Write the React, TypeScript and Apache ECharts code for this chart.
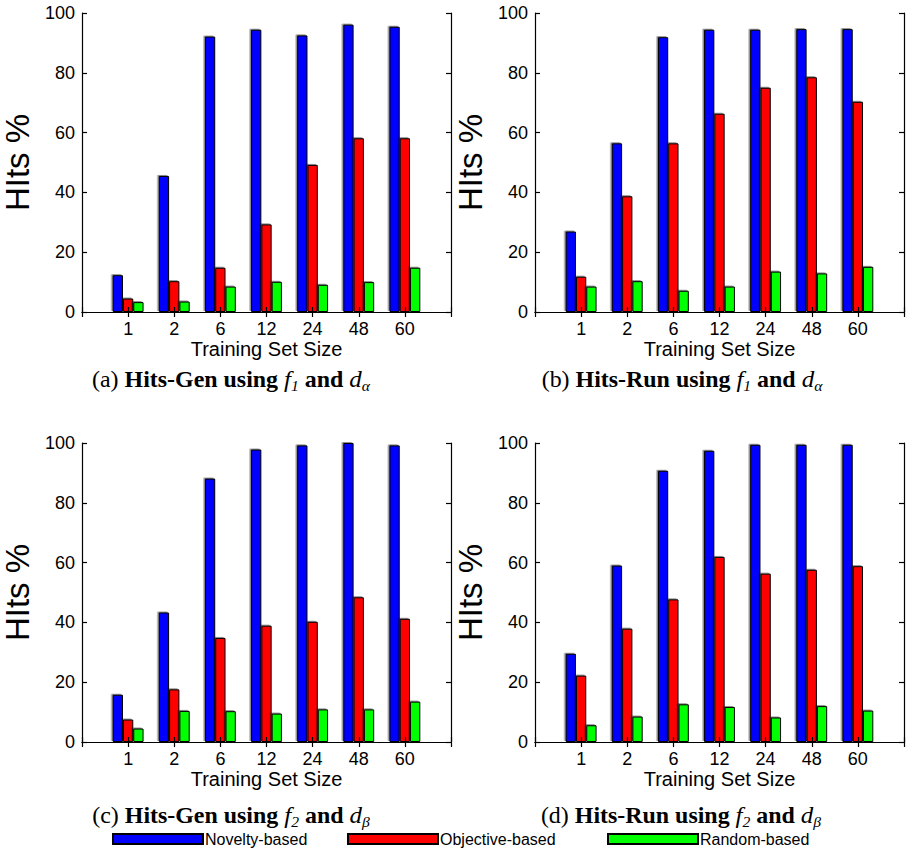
import React, { useEffect, useRef } from "react";
import * as echarts from "echarts";

const categories = ["1", "2", "6", "12", "24", "48", "60"];
const seriesNames = ["Novelty-based", "Objective-based", "Random-based"];
const seriesColors = ["#0000FF", "#FF0000", "#00FF00"];
const yTickValues = [0, 20, 40, 60, 80, 100];

// (a) Hits-Gen using f1 and d_alpha
const aNovelty = [12.3, 45.5, 92.1, 94.4, 92.5, 96.1, 95.4];
const aObjective = [4.5, 10.3, 14.8, 29.3, 49.2, 58.1, 58.1];
const aRandom = [3.3, 3.5, 8.5, 10.1, 9.1, 10.0, 14.8];
// (b) Hits-Run using f1 and d_alpha
const bNovelty = [26.9, 56.4, 91.9, 94.4, 94.4, 94.6, 94.6];
const bObjective = [11.8, 38.7, 56.4, 66.3, 75.0, 78.5, 70.3];
const bRandom = [8.5, 10.3, 7.1, 8.5, 13.5, 12.9, 15.1];
// (c) Hits-Gen using f2 and d_beta
const cNovelty = [15.8, 43.3, 88.1, 97.8, 99.2, 100, 99.2];
const cObjective = [7.5, 17.6, 34.8, 38.9, 40.2, 48.4, 41.2];
const cRandom = [4.5, 10.4, 10.3, 9.5, 10.9, 10.9, 13.5];
// (d) Hits-Run using f2 and d_beta
const dNovelty = [29.5, 59.0, 90.7, 97.4, 99.4, 99.4, 99.4];
const dObjective = [22.2, 37.9, 47.7, 61.9, 56.3, 57.6, 58.8];
const dRandom = [5.6, 8.5, 12.6, 11.7, 8.2, 12.0, 10.5];

const captionLetters = ["a", "b", "c", "d"];
const captionTitles = ["Hits-Gen using ", "Hits-Run using ", "Hits-Gen using ", "Hits-Run using "];
const captionSubF = ["1", "1", "2", "2"];
const captionSubD = ["α", "α", "β", "β"];

const panels = [
  [aNovelty, aObjective, aRandom],
  [bNovelty, bObjective, bRandom],
  [cNovelty, cObjective, cRandom],
  [dNovelty, dObjective, dRandom],
];

const SANS = "'Liberation Sans', Arial, Helvetica, sans-serif";
const SERIF = "'Liberation Serif', 'Times New Roman', serif";

const gridBoxes = [
  { left: 81, top: 13 },
  { left: 535, top: 13 },
  { left: 81, top: 443 },
  { left: 535, top: 443 },
];
const captionPos = [
  { x: 231, y: 379 },
  { x: 682, y: 379 },
  { x: 231, y: 815 },
  { x: 681, y: 815 },
];
const legendLeft = [112, 347, 607];

export default function App() {
  const ref = useRef<HTMLDivElement>(null);
  useEffect(() => {
    if (!ref.current) return;
    const chart = echarts.init(ref.current, undefined, { renderer: "svg" });
    const padded = ["", ...categories, ""];

    const grid: any[] = [];
    const xAxis: any[] = [];
    const yAxis: any[] = [];
    const series: any[] = [];
    const graphic: any[] = [];

    panels.forEach((panel, i) => {
      grid.push({ left: gridBoxes[i].left, top: gridBoxes[i].top, width: 370, height: 299 });
      const lineStyle = { color: "#000", width: 1.2 };
      xAxis.push({
        type: "category",
        gridIndex: i,
        data: padded,
        boundaryGap: false,
        position: "bottom",
        axisLine: { show: true, lineStyle },
        axisTick: { show: true, inside: true, length: 5, lineStyle, interval: 0 },
        axisLabel: { show: true, interval: 0, color: "#000", fontSize: 18, fontFamily: SANS, margin: 8 },
        splitLine: { show: false },
        name: "Training Set Size",
        nameLocation: "middle",
        nameGap: 24,
        nameTextStyle: { color: "#000", fontSize: 20, fontFamily: SANS, verticalAlign: "top" },
        z: 10,
      });
      xAxis.push({
        type: "category",
        gridIndex: i,
        data: padded,
        boundaryGap: false,
        position: "top",
        axisLine: { show: true, lineStyle },
        axisTick: { show: true, inside: true, length: 5, lineStyle, interval: 0 },
        axisLabel: { show: false },
        splitLine: { show: false },
        z: 10,
      });
      yAxis.push({
        type: "value",
        gridIndex: i,
        min: 0,
        max: 100,
        interval: 20,
        position: "left",
        axisLine: { show: true, lineStyle },
        axisTick: { show: true, inside: true, length: 5, lineStyle },
        axisLabel: {
          show: true,
          color: "#000",
          fontSize: 18,
          fontFamily: SANS,
          margin: 7,
          formatter: (v: number) => (yTickValues.includes(v) ? String(v) : ""),
        },
        splitLine: { show: false },
        name: "HIts %",
        nameLocation: "middle",
        nameGap: 48,
        nameTextStyle: { color: "#000", fontSize: 33, fontFamily: SANS },
        z: 10,
      });
      yAxis.push({
        type: "value",
        gridIndex: i,
        min: 0,
        max: 100,
        interval: 20,
        position: "right",
        axisLine: { show: true, lineStyle },
        axisTick: { show: true, inside: true, length: 5, lineStyle },
        axisLabel: { show: false },
        splitLine: { show: false },
        z: 10,
      });
      panel.forEach((vals, s) => {
        series.push({
          type: "bar",
          name: seriesNames[s],
          xAxisIndex: i * 2,
          yAxisIndex: i * 2,
          data: [null, ...vals, null],
          barWidth: "22.3%",
          barGap: "0%",
          itemStyle: {
            color: seriesColors[s],
            borderColor: "#000",
            borderWidth: 1,
            shadowColor: "rgba(0,0,0,0.45)",
            shadowOffsetX: -1.5,
            shadowOffsetY: -1,
            shadowBlur: 0,
          },
          emphasis: { disabled: true },
        });
      });
      graphic.push({
        type: "text",
        x: captionPos[i].x,
        y: captionPos[i].y,
        scaleX: 1.04,
        style: {
          text:
            "{n|(" + captionLetters[i] + ") }{b|" + captionTitles[i] + "}{i|f}{s|" + captionSubF[i] +
            "}{b| and }{i|d}{s|" + captionSubD[i] + "}",
          align: "center",
          verticalAlign: "middle",
          fill: "#000",
          fontFamily: SERIF,
          fontSize: 23,
          rich: {
            n: { fontFamily: SERIF, fontSize: 23, lineHeight: 28, fill: "#000" },
            b: { fontFamily: SERIF, fontSize: 23, fontWeight: "bold", lineHeight: 28, fill: "#000" },
            i: { fontFamily: SERIF, fontSize: 24, fontStyle: "italic", lineHeight: 28, fill: "#000" },
            s: { fontFamily: SERIF, fontSize: 15, fontStyle: "italic", lineHeight: 15, verticalAlign: "bottom", fill: "#000" },
          },
        },
      });
    });

    const legend = seriesNames.map((name, k) => ({
      data: [name],
      left: legendLeft[k],
      top: 831,
      padding: 0,
      itemWidth: 90,
      itemHeight: 10,
      icon: "rect",
      selectedMode: false,
      textStyle: { color: "#000", fontSize: 16, fontFamily: SANS, padding: [0, 0, 0, -3] },
    }));

    chart.setOption({
      animation: false,
      backgroundColor: "#fff",
      grid,
      xAxis,
      yAxis,
      series,
      graphic,
      legend,
    });
    return () => chart.dispose();
  }, []);
  return (
    <div
      ref={ref}
      style={{ position: "fixed", left: 0, top: 0, width: 907, height: 852, background: "#fff" }}
    />
  );
}
